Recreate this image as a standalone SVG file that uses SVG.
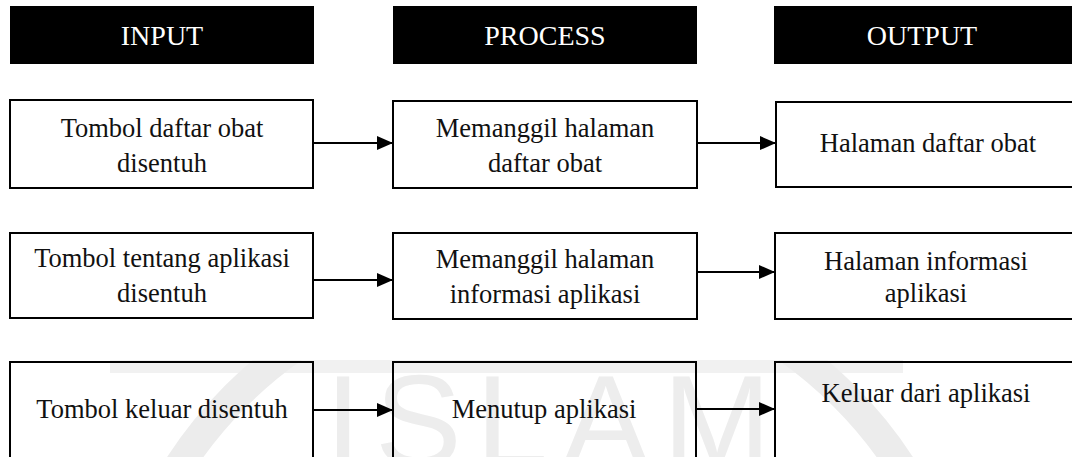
<svg xmlns="http://www.w3.org/2000/svg" width="1072" height="457" viewBox="0 0 1072 457">
  <style>
    .hdr { fill: #000; }
    .hdr-t { font-family: "Liberation Serif", "Times New Roman", serif; font-size: 28px; fill: #fff; text-anchor: middle; }
    .box { fill: none; stroke: #000; stroke-width: 2; }
    .lbl { font-family: "Liberation Serif", "Times New Roman", serif; font-size: 26.5px; fill: #111; text-anchor: middle; }
    .conn { stroke: #000; stroke-width: 2; fill: none; marker-end: url(#arrow); }
    .wm { fill: none; stroke: #ececec; stroke-width: 30; }
    .wm-t { font-family: "Liberation Sans", Arial, sans-serif; font-size: 130px; fill: #ededed; }
  </style>
  <defs>
    <marker id="arrow" viewBox="0 0 16 14" refX="16" refY="7" markerWidth="16" markerHeight="14" markerUnits="userSpaceOnUse" orient="auto">
      <path d="M0,0 L16,7 L0,14 z" fill="#000"/>
    </marker>
    <clipPath id="wmclip">
      <rect x="0" y="360" width="1072" height="97"/>
    </clipPath>
  </defs>

  <!-- background watermark -->
  <g id="watermark" clip-path="url(#wmclip)">
    <rect x="110" y="360" width="793" height="13" fill="#f1f1f1"/>
    <circle cx="540" cy="700" r="430" class="wm"/>
    <text x="325" y="466" class="wm-t" letter-spacing="14">ISLAM</text>
  </g>

  <!-- column headers -->
  <g id="hdr-input">
    <rect x="10" y="6" width="304" height="58" class="hdr"/>
    <text x="162" y="45" class="hdr-t">INPUT</text>
  </g>
  <g id="hdr-process">
    <rect x="393" y="6" width="304" height="58" class="hdr"/>
    <text x="545" y="45" class="hdr-t">PROCESS</text>
  </g>
  <g id="hdr-output">
    <rect x="774" y="6" width="310" height="58" class="hdr"/>
    <text x="922" y="45" class="hdr-t">OUTPUT</text>
  </g>

  <!-- row 1 -->
  <g id="in-1">
    <rect x="10" y="100" width="303" height="88" class="box"/>
    <text x="162" y="137" class="lbl">Tombol daftar obat</text>
    <text x="162" y="172" class="lbl">disentuh</text>
  </g>
  <g id="proc-1">
    <rect x="393" y="101" width="304" height="87" class="box"/>
    <text x="545" y="137" class="lbl">Memanggil halaman</text>
    <text x="545" y="172" class="lbl">daftar obat</text>
  </g>
  <g id="out-1">
    <rect x="776" y="102" width="310" height="85" class="box"/>
    <text x="928" y="152" class="lbl">Halaman daftar obat</text>
  </g>

  <!-- row 2 -->
  <g id="in-2">
    <rect x="10" y="233" width="303" height="85" class="box"/>
    <text x="162" y="267" class="lbl">Tombol tentang aplikasi</text>
    <text x="162" y="302" class="lbl">disentuh</text>
  </g>
  <g id="proc-2">
    <rect x="393" y="233" width="304" height="86" class="box"/>
    <text x="545" y="268" class="lbl">Memanggil halaman</text>
    <text x="545" y="303" class="lbl">informasi aplikasi</text>
  </g>
  <g id="out-2">
    <rect x="775" y="233" width="310" height="86" class="box"/>
    <text x="926" y="270" class="lbl">Halaman informasi</text>
    <text x="926" y="302" class="lbl">aplikasi</text>
  </g>

  <!-- row 3 -->
  <g id="in-3">
    <rect x="10" y="362" width="303" height="110" class="box"/>
    <text x="162" y="418" class="lbl">Tombol keluar disentuh</text>
  </g>
  <g id="proc-3">
    <rect x="393" y="362" width="303" height="110" class="box"/>
    <text x="544" y="418" class="lbl">Menutup aplikasi</text>
  </g>
  <g id="out-3">
    <rect x="775" y="362" width="310" height="110" class="box"/>
    <text x="926" y="402" class="lbl">Keluar dari aplikasi</text>
  </g>

  <!-- connectors -->
  <g id="connectors">
    <line x1="313" y1="143" x2="393" y2="143" class="conn"/>
    <line x1="697" y1="143" x2="776" y2="143" class="conn"/>
    <line x1="313" y1="280" x2="393" y2="280" class="conn"/>
    <line x1="697" y1="272" x2="775" y2="272" class="conn"/>
    <line x1="313" y1="410" x2="393" y2="410" class="conn"/>
    <line x1="696" y1="409" x2="775" y2="409" class="conn"/>
  </g>
</svg>
